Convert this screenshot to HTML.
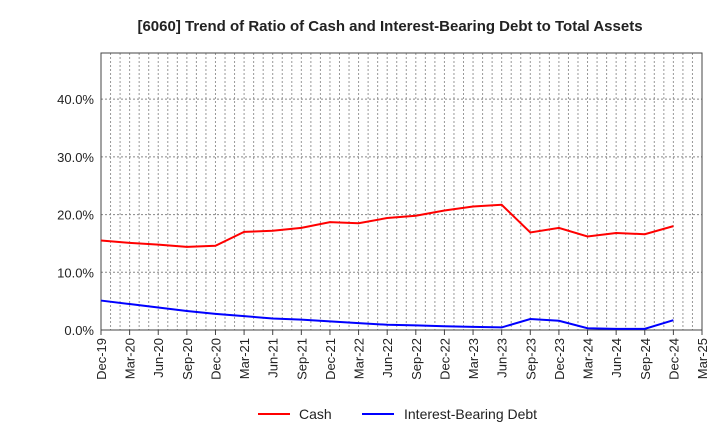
<!DOCTYPE html>
<html><head><meta charset="utf-8"><style>
body{margin:0;background:#fff;font-family:"Liberation Sans",Arial,sans-serif}
svg text{font-family:"Liberation Sans",Arial,sans-serif}
</style></head><body>
<svg id="c" width="720" height="440" xmlns="http://www.w3.org/2000/svg">
<text x="390" y="31" text-anchor="middle" font-size="15" font-weight="bold" fill="#222">[6060]  Trend of Ratio of Cash and Interest-Bearing Debt to Total Assets</text>
<g id="grid"></g><g id="axes"></g><g id="series"></g>
<g>
<line x1="258" y1="414" x2="290" y2="414" stroke="#f00" stroke-width="2"/>
<text x="299" y="419" font-size="14" fill="#222">Cash</text>
<line x1="362" y1="414" x2="394" y2="414" stroke="#00f" stroke-width="2"/>
<text x="404" y="419" font-size="14" fill="#222">Interest-Bearing Debt</text>
</g>
</svg>
<script>
const categories=["Dec-19","Mar-20","Jun-20","Sep-20","Dec-20","Mar-21","Jun-21","Sep-21","Dec-21","Mar-22","Jun-22","Sep-22","Dec-22","Mar-23","Jun-23","Sep-23","Dec-23","Mar-24","Jun-24","Sep-24","Dec-24","Mar-25"];
const cash=[15.5,15.1,14.8,14.4,14.6,17.0,17.2,17.7,18.7,18.5,19.4,19.8,20.7,21.4,21.7,16.9,17.7,16.2,16.8,16.6,18.0];
const debt=[5.1,4.5,3.9,3.3,2.8,2.4,2.0,1.8,1.5,1.2,0.9,0.8,0.65,0.55,0.45,1.9,1.6,0.3,0.2,0.2,1.7];
const yTicks=[0,10,20,30,40];
const X0=101,X1=702,Y0=330,Y1=53,YMAX=48;
const xs=i=>X0+(X1-X0)*i/(categories.length-1);
const ys=v=>Y0-(Y0-Y1)*v/YMAX;
const NS="http://www.w3.org/2000/svg";
function mk(t,a,p){const e=document.createElementNS(NS,t);for(const k in a)e.setAttribute(k,a[k]);p.appendChild(e);return e;}
const grid=document.getElementById('grid'),axes=document.getElementById('axes'),series=document.getElementById('series');
for(let m=1;m<(categories.length-1)*3;m++){const x=X0+(X1-X0)*m/((categories.length-1)*3);
const l=mk('line',{x1:x,y1:Y1,x2:x,y2:Y0,stroke:'#999','stroke-dasharray':'2,2','stroke-width':1},grid);

}
yTicks.forEach(v=>{const y=ys(v);
if(v>0){const l=mk('line',{x1:X0,y1:y,x2:X1,y2:y,stroke:'#888','stroke-dasharray':'2,2','stroke-width':1},grid);

}
const t=mk('text',{x:X0-7,y:y+5,'text-anchor':'end','font-size':13,fill:'#222'},axes);t.textContent=v.toFixed(1)+'%';

});
const fr=mk('rect',{x:X0,y:Y1,width:X1-X0,height:Y0-Y1,fill:'none',stroke:'#444','stroke-width':1},axes);


categories.forEach((c,i)=>{const x=xs(i);
mk('line',{x1:x,y1:Y0,x2:x,y2:Y0+5,stroke:'#444'},axes);
const t=mk('text',{x:x+5,y:Y0+8,'text-anchor':'end','font-size':13,fill:'#222',transform:`rotate(-90 ${x+5} ${Y0+8})`},axes);t.textContent=c;

});
function line(d,col,name){const p=mk('polyline',{points:d.map((v,i)=>xs(i)+','+ys(v)).join(' '),fill:'none',stroke:col,'stroke-width':2},series);

}
line(cash,'#f00','cash-line');line(debt,'#00f','debt-line');
</script>
</body></html>
